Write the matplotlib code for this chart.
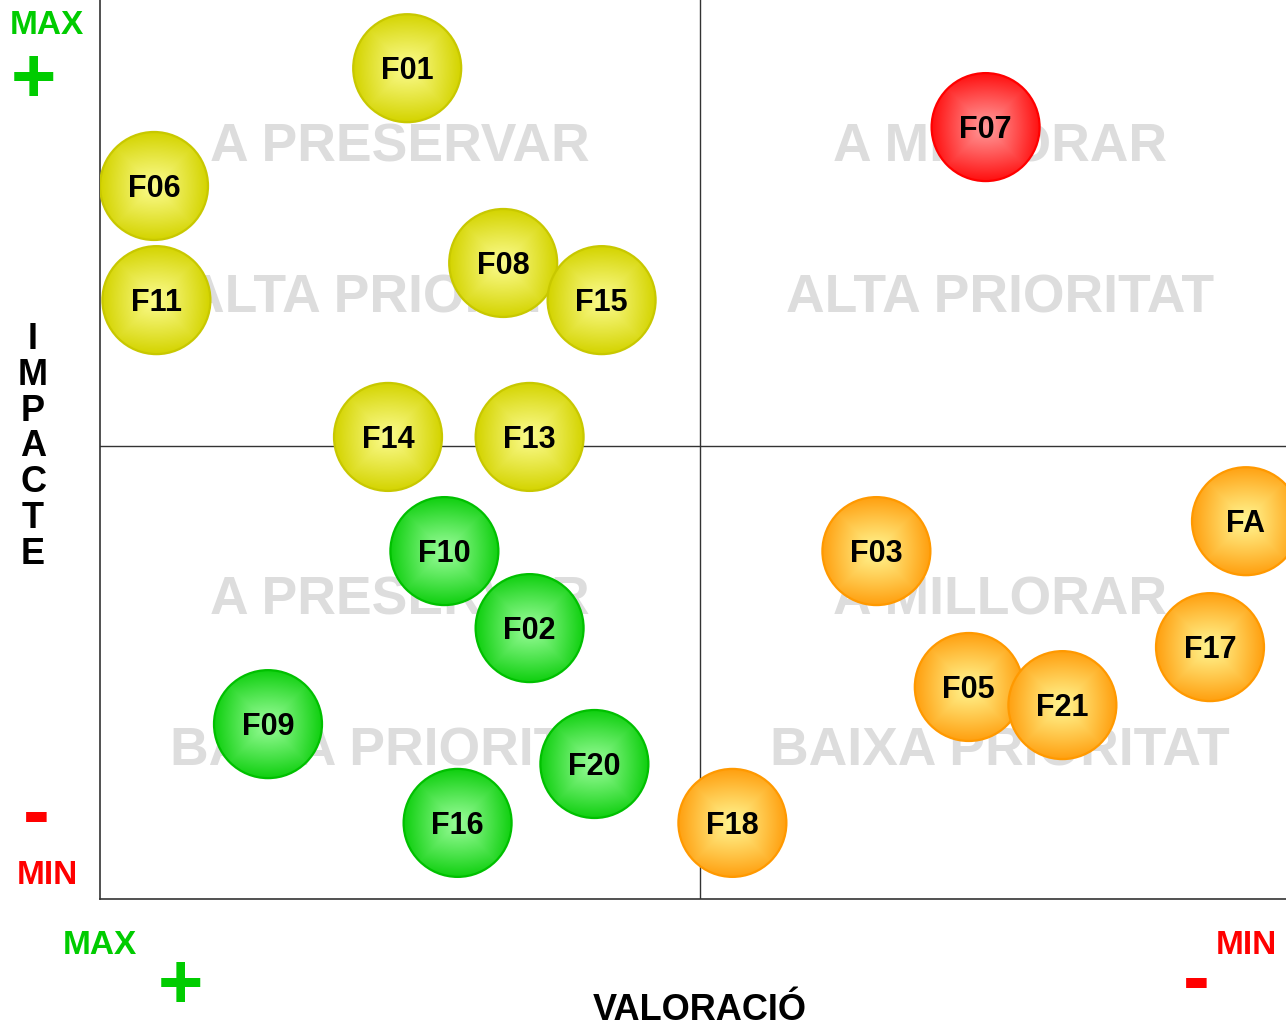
"""Matriu impacte / valoració amb bombolles per factor."""

import numpy as np
import matplotlib

matplotlib.use("Agg")
import matplotlib.pyplot as plt
from matplotlib.patches import Ellipse
from matplotlib.colors import to_rgb

plt.rcParams["font.family"] = ["Liberation Sans", "DejaVu Sans"]

# dades llegides del gràfic (valoració 0-100 d'esquerra a dreta, impacte 0-100 de baix a dalt)
labels = ["F01", "F06", "F11", "F08", "F15", "F14", "F13", "F10", "F02", "F09",
          "F20", "F16", "F18", "F07", "F03", "FA", "F17", "F05", "F21"]
valoracio = [25.6, 4.5, 4.7, 33.6, 41.8, 24.0, 35.8, 28.7, 35.8, 14.0,
             41.2, 29.8, 52.7, 73.8, 64.7, 95.5, 92.5, 72.4, 80.2]
impacte = [91.7, 78.7, 66.1, 70.2, 66.1, 51.0, 51.0, 38.4, 29.9, 19.3,
           14.9, 8.4, 8.4, 85.2, 38.4, 41.7, 27.8, 23.4, 21.4]
grups = ["groc", "groc", "groc", "groc", "groc", "groc", "groc", "verd", "verd", "verd",
         "verd", "verd", "taronja", "vermell", "taronja", "taronja", "taronja", "taronja", "taronja"]

quadrant_x = [25, 25, 75, 75, 25, 25, 75, 75]
quadrant_y = [83.3, 66.7, 83.3, 66.7, 33.3, 16.7, 33.3, 16.7]
quadrant_text = ["A PRESERVAR", "ALTA PRIORITAT", "A MILLORAR", "ALTA PRIORITAT",
                 "A PRESERVAR", "BAIXA PRIORITAT", "A MILLORAR", "BAIXA PRIORITAT"]

# (vora, farciment exterior, centre)
PALETTE = {
    "groc": ("#c8c800", "#d4d400", "#fbfb8c"),
    "verd": ("#00c000", "#10d010", "#98fc98"),
    "taronja": ("#ff9900", "#ffa010", "#fff590"),
    "vermell": ("#ff0000", "#ff1010", "#ff9a9a"),
}

W, H = 1286, 1024
GREEN = "#00cc00"
RED = "#ff0000"
BUBBLE_PX = 108


def gradient_image(outer, inner, n=120):
    u = np.linspace(-1, 1, n)
    xx, yy = np.meshgrid(u, u)
    cheb = np.maximum(np.abs(xx), np.abs(yy))
    rad = np.hypot(xx, yy)
    t = np.clip(0.55 * cheb + 0.45 * rad, 0, 1) ** 1.1
    o = np.array(to_rgb(outer))
    i = np.array(to_rgb(inner))
    return i[None, None, :] + (o - i)[None, None, :] * t[..., None]


fig = plt.figure(figsize=(W / 100, H / 100), dpi=100)
ax = fig.add_axes([100 / W, 125 / H, 1200 / W, 906 / H])
ax.set_xlim(0, 100)
ax.set_ylim(0, 100)
ax.set_xticks([])
ax.set_yticks([])
for spine in ax.spines.values():
    spine.set_color("#333333")
    spine.set_linewidth(1.2)

ax.axvline(50, color="#333333", lw=1.0, zorder=2)
ax.axhline(50, color="#333333", lw=1.0, zorder=2)

for qx, qy, qt in zip(quadrant_x, quadrant_y, quadrant_text):
    ax.annotate(qt, (qx, qy), xytext=(0, -2.5), textcoords="offset points",
                ha="center", va="center", fontsize=38.5,
                fontweight="bold", color="#dddddd", zorder=1)

# radi en unitats de dades perquè la bombolla sigui rodona en píxels
fig.canvas.draw()
p0 = ax.transData.transform((0, 0))
p1 = ax.transData.transform((1, 1))
rx = BUBBLE_PX / 2 / (p1[0] - p0[0])
ry = BUBBLE_PX / 2 / (p1[1] - p0[1])

for k, (lab, vx, vy, g) in enumerate(zip(labels, valoracio, impacte, grups)):
    edge, outer, inner = PALETTE[g]
    z = 5 + k * 3
    ell = Ellipse((vx, vy), 2 * rx, 2 * ry, facecolor="none",
                  edgecolor=edge, lw=1.6, zorder=z + 1)
    ax.add_patch(ell)
    img = ax.imshow(gradient_image(outer, inner),
                    extent=[vx - rx, vx + rx, vy - ry, vy + ry],
                    interpolation="bilinear", aspect="auto", zorder=z)
    img.set_clip_path(ell)
    ax.annotate(lab, (vx, vy), xytext=(0, -2.2), textcoords="offset points",
                ha="center", va="center", fontsize=22,
                fontweight="bold", color="black", zorder=z + 2)

ax.set_xlim(0, 100)
ax.set_ylim(0, 100)
ax.set_aspect("auto")


def ftext(px, py, s, **kw):
    fig.text(px / W, 1 - py / H, s, ha="center", va="center",
             fontweight="bold", **kw)


ftext(47, 26, "MAX", fontsize=24, color=GREEN)
ftext(33, 81, "+", fontsize=56, color=GREEN)
ftext(36, 817, "-", fontsize=58, color=RED)
ftext(47, 875, "MIN", fontsize=24, color=RED)

ftext(100, 946, "MAX", fontsize=24, color=GREEN)
ftext(180, 987, "+", fontsize=56, color=GREEN)
ftext(1246, 946, "MIN", fontsize=24, color=RED)
ftext(1196, 983, "-", fontsize=58, color=RED)

ftext(700, 1010, "VALORACIÓ", fontsize=26, color="black")
ftext(33, 447, "\n".join("IMPACTE"), fontsize=26, color="black", linespacing=1.03)

fig.savefig("out.png", dpi=100)
